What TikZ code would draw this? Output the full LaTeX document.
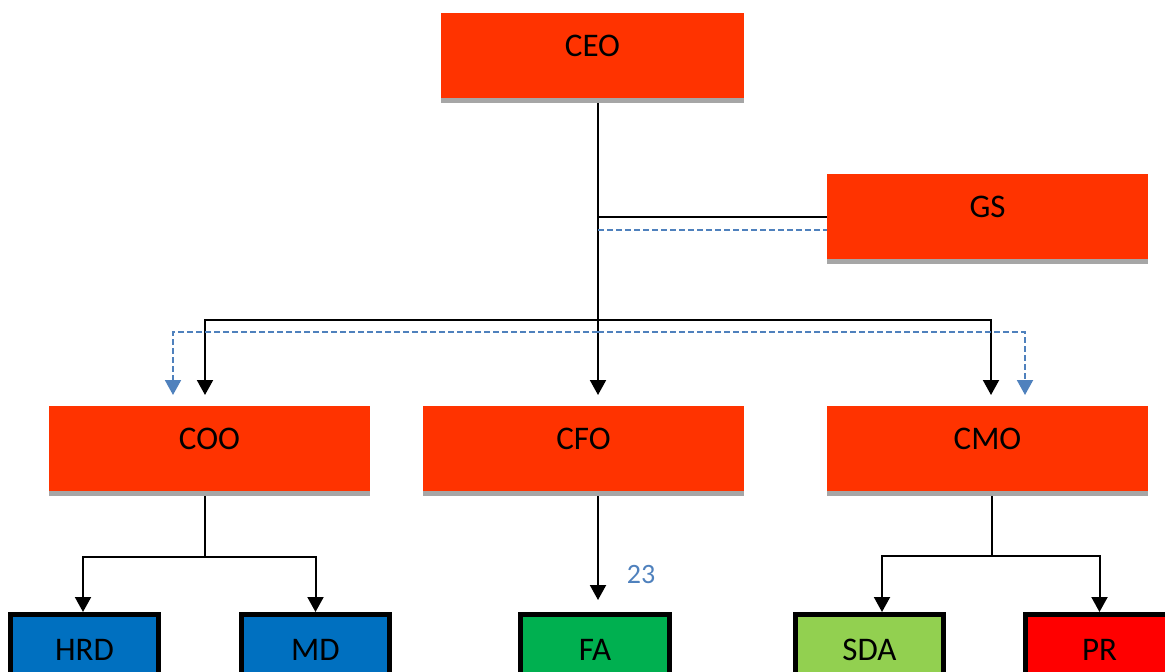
\documentclass[tikz,border=0pt]{standalone}
\usepackage{fontspec}
\setmainfont{Carlito}
\usetikzlibrary{arrows.meta,backgrounds,calc}
\definecolor{boxred}{HTML}{FF3300}
\definecolor{shadowgray}{HTML}{A6A6A6}
\definecolor{hrdblue}{HTML}{0070C0}
\definecolor{fagreen}{HTML}{00B050}
\definecolor{sdagreen}{HTML}{92D050}
\definecolor{prred}{HTML}{FF0000}
\definecolor{linkblue}{HTML}{4F81BD}
\begin{document}
\begin{tikzpicture}[x=1pt,y=-1pt,
  redbox/.style={fill=boxred, draw=none, outer sep=0pt, inner sep=0pt,
    minimum height=85pt, text height=22pt, text depth=20pt,
    font=\fontsize{33}{39}\selectfont},
  leafbox/.style={draw=black, line width=5pt, inner sep=0pt,
    minimum width=148pt, minimum height=86pt, text height=22pt, text depth=16pt,
    font=\fontsize{33}{39}\selectfont},
  conn/.style={draw=black, line width=2pt},
  dashconn/.style={draw=linkblue, line width=2pt, dash pattern=on 6pt off 3pt},
  arr/.style={-{Triangle[width=16pt,length=15pt]}},
  barr/.style={-{Triangle[width=16pt,length=15pt,fill=linkblue]}},
]
\useasboundingbox (0,0) rectangle (1165,672);
\clip (0,0) rectangle (1165,672);

% nodes
\node[redbox, minimum width=303pt] (CEO) at (592.5,55.5) {CEO};
\node[redbox, minimum width=321pt] (GS)  at (987.5,216.5) {GS};
\node[redbox, minimum width=321pt] (COO) at (209.5,448.5) {COO};
\node[redbox, minimum width=321pt] (CFO) at (583.5,448.5) {CFO};
\node[redbox, minimum width=321pt] (CMO) at (987.5,448.5) {CMO};

\node[leafbox, fill=hrdblue] (HRD) at (84.5,657.5) {HRD};
\node[leafbox, fill=hrdblue] (MD)  at (315.5,657.5) {MD};
\node[leafbox, fill=fagreen, minimum width=149pt] (FA) at (595,657.5) {FA};
\node[leafbox, fill=sdagreen] (SDA) at (869.5,657.5) {SDA};
\node[leafbox, fill=prred] (PR) at (1099.5,657.5) {PR};

\node[text=linkblue, font=\fontsize{28}{34}\selectfont, inner sep=0pt] (num) at (641,575) {23};

% shadows
\foreach \n in {CEO,GS,COO,CFO,CMO}{
  \fill[shadowgray] (\n.south west) rectangle ([yshift=-5pt]\n.south east);
}

% connectors
\coordinate (t1) at (598,320);
\coordinate (b1) at (598,332);
\coordinate (gsd) at ($(GS.west)+(0,13.5)$);
\coordinate (c1) at (205,557);
\coordinate (m1) at (991.5,556);
\begin{scope}[on background layer]
  \draw[conn, arr, shorten >=11pt] (CEO.south -| t1) -- (CFO.north -| t1);
  \draw[conn] (GS.west -| t1) -- (GS.west);
  \draw[dashconn] (gsd -| t1) -- (gsd);
  \draw[conn, arr, shorten >=11pt] (t1) -| ($(COO.north)+(-4.5,0)$);
  \draw[conn, arr, shorten >=11pt] (t1) -| ($(CMO.north)+(3.5,0)$);
  \draw[dashconn, barr, shorten >=11pt] (b1) -| ($(COO.north)+(-36.5,0)$);
  \draw[dashconn, barr, shorten >=11pt] (b1) -| ($(CMO.north)+(37.5,0)$);
  \draw[conn] ($(COO.south)+(-4.5,0)$) -- (c1);
  \draw[conn, arr] (c1) -| ($(HRD.north)+(-1.5,0)$);
  \draw[conn, arr] (c1) -| (MD.north);
  \draw[conn, arr, shorten >=12pt] (CFO.south -| t1) -- (FA.north -| t1);
  \draw[conn] (CMO.south -| m1) -- (m1);
  \draw[conn, arr] (m1) -| ($(SDA.north)+(12.5,0)$);
  \draw[conn, arr] (m1) -| (PR.north);
\end{scope}
\end{tikzpicture}
\end{document}
